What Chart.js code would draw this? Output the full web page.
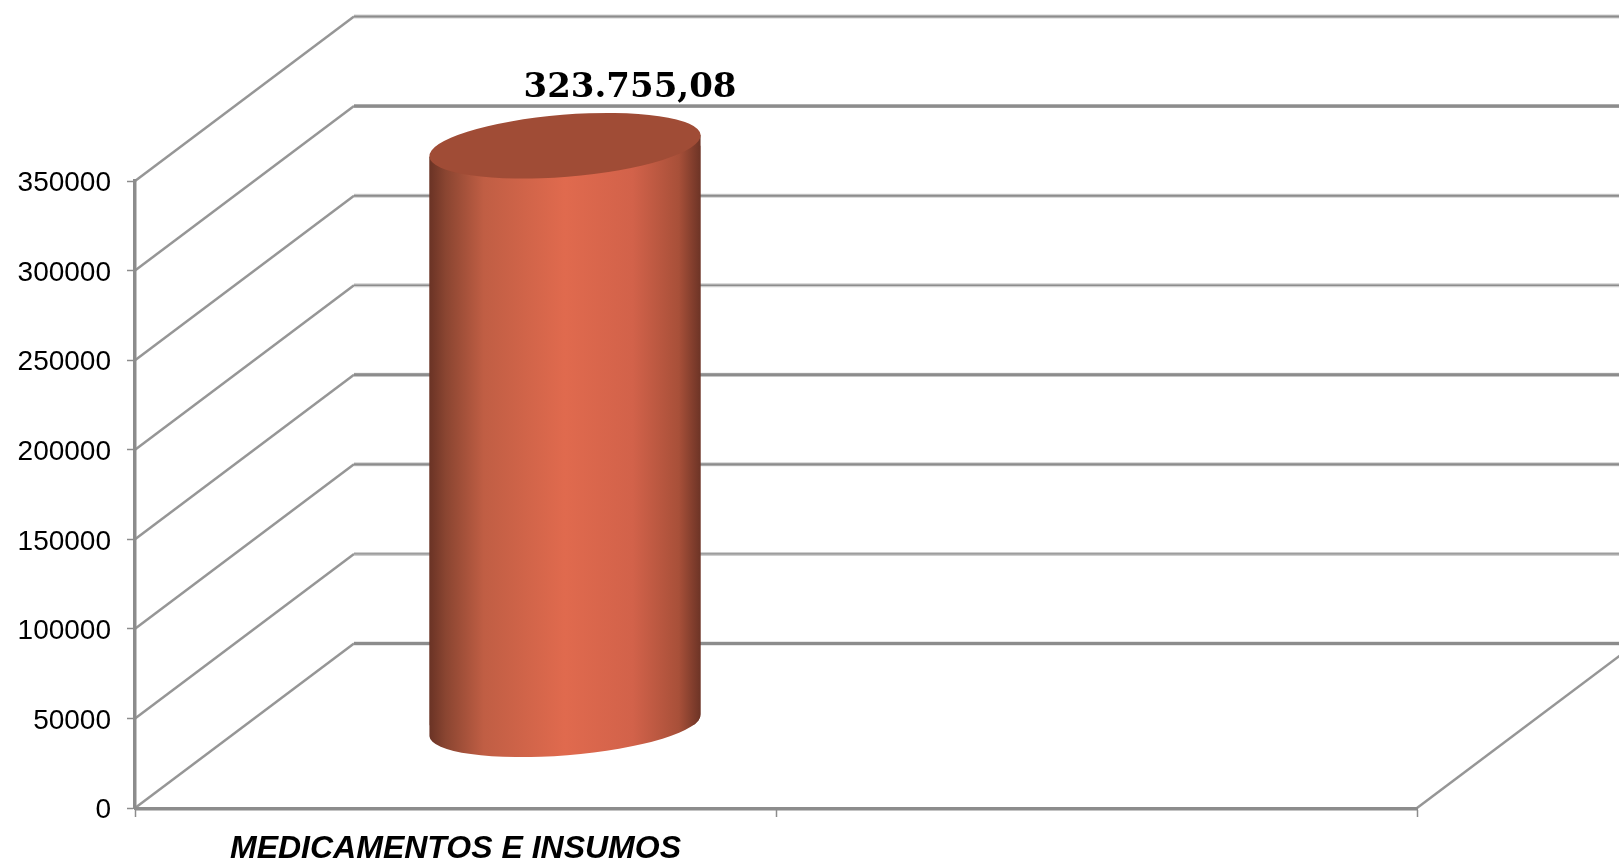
<!DOCTYPE html>
<html>
<head>
<meta charset="utf-8">
<style>
    html, body { margin: 0; padding: 0; background: #fff; overflow: hidden; }
    canvas { display: block; }
</style>
<script src="https://cdn.jsdelivr.net/npm/chart.js@4/dist/chart.umd.min.js"></script>
</head>
<body>
<canvas id="chart" width="1619" height="861"></canvas>
<script>
const categories = ['MEDICAMENTOS E INSUMOS', ''];
const seriesValues = [323755.08, null];
const valueLabels = ['323.755,08', ''];
const yTicks = [0, 50000, 100000, 150000, 200000, 250000, 300000, 350000];

// Fake 3D: how far the back wall sits from the axis plane
const DEPTH_X = 219;
const DEPTH_Y = 164.5;
const GRID = '#8c8c8c';
const TILT = -4.6 * Math.PI / 180;
// back wall lines are not all equally heavy in the original, bottom to top
const BACK_WIDTHS = [3.2, 1.2, 2.4, 3, 1.6, 2, 3.3, 2];

const sideGradient = (ctx, left, right) => {
    const g = ctx.createLinearGradient(left, 0, right, 0);
    g.addColorStop(0, '#6a3325');
    g.addColorStop(0.06, '#8a4531');
    g.addColorStop(0.2, '#c05e44');
    g.addColorStop(0.5, '#e06a4e');
    g.addColorStop(0.75, '#d2624a');
    g.addColorStop(0.92, '#a85039');
    g.addColorStop(1, '#6d3426');
    return g;
};

const walls = {
    id: 'walls',
    beforeDraw: (chart) => {
        const { ctx, chartArea: a, scales: { y } } = chart;
        ctx.save();
        yTicks.forEach((v, i) => {
            const py = y.getPixelForValue(v);
            // side wall
            ctx.strokeStyle = '#969696';
            ctx.lineWidth = 2.5;
            ctx.beginPath();
            ctx.moveTo(a.left, py);
            ctx.lineTo(a.left + DEPTH_X, py - DEPTH_Y);
            ctx.stroke();
            // back wall, pale halo first
            ctx.strokeStyle = '#cfcfcf';
            ctx.lineWidth = 4;
            ctx.beginPath();
            ctx.moveTo(a.left + DEPTH_X, py - DEPTH_Y);
            ctx.lineTo(chart.width, py - DEPTH_Y);
            ctx.stroke();
            ctx.strokeStyle = GRID;
            ctx.lineWidth = BACK_WIDTHS[i];
            ctx.beginPath();
            ctx.moveTo(a.left + DEPTH_X, py - DEPTH_Y);
            ctx.lineTo(chart.width, py - DEPTH_Y);
            ctx.stroke();
        });
        // floor edge on the right
        ctx.strokeStyle = '#969696';
        ctx.lineWidth = 2.5;
        ctx.beginPath();
        ctx.moveTo(a.right, a.bottom);
        ctx.lineTo(a.right + DEPTH_X, a.bottom - DEPTH_Y);
        ctx.stroke();
        // pale shadow under the x axis
        ctx.strokeStyle = '#c4c4c4';
        ctx.lineWidth = 2;
        ctx.beginPath();
        ctx.moveTo(a.left, a.bottom + 2);
        ctx.lineTo(a.right, a.bottom + 2);
        ctx.stroke();
        ctx.restore();
    }
};

const cylinder = {
    id: 'cylinder',
    beforeDatasetsDraw: (chart) => {
        const { ctx } = chart;
        const bar = chart.getDatasetMeta(0).data[0];
        const rx = bar.width / 2;
        const cx = bar.x + DEPTH_X / 2;
        const baseY = bar.base - DEPTH_Y / 2;
        const topY = bar.y - DEPTH_Y / 2;
        const rise = Math.sin(TILT) * rx;

        ctx.save();
        // side of the cylinder, rounded at the foot
        ctx.beginPath();
        ctx.moveTo(cx - rx, topY - rise);
        ctx.lineTo(cx + rx, topY + rise);
        ctx.lineTo(cx + rx, baseY + rise);
        ctx.ellipse(cx, baseY, rx / Math.cos(TILT), 30, TILT, 0, Math.PI);
        ctx.closePath();
        ctx.fillStyle = sideGradient(ctx, cx - rx, cx + rx);
        ctx.fill();
        ctx.clip();
        // the library's own bar moves back to mid depth
        ctx.translate(DEPTH_X / 2, -DEPTH_Y / 2);
    },
    afterDatasetsDraw: (chart) => {
        const { ctx } = chart;
        ctx.restore();
        const bar = chart.getDatasetMeta(0).data[0];
        const rx = bar.width / 2;
        const cx = bar.x + DEPTH_X / 2;
        const topY = bar.y - DEPTH_Y / 2;

        ctx.save();
        ctx.fillStyle = '#a04c36';
        ctx.beginPath();
        ctx.ellipse(cx, topY, rx / Math.cos(TILT), 31, TILT, 0, Math.PI * 2);
        ctx.fill();
        // value label
        ctx.fillStyle = '#000';
        ctx.font = 'bold 34px "DejaVu Serif"';
        ctx.textAlign = 'center';
        ctx.textBaseline = 'alphabetic';
        ctx.fillText(valueLabels[0], cx + 65, topY - 49);
        ctx.restore();
    }
};

// Liberation digits sit high on a middle baseline, push the y labels down a bit
const nudgeLabels = (s) => {
    if (s.nudged) return;
    s.nudged = true;
    const draw = s.drawLabels;
    s.drawLabels = function (area) {
        s.ctx.save();
        s.ctx.translate(0, 2.5);
        draw.call(this, area);
        s.ctx.restore();
    };
};

new Chart(document.getElementById('chart').getContext('2d'), {
    type: 'bar',
    data: {
        labels: categories,
        datasets: [{
            data: seriesValues,
            backgroundColor: (c) => {
                const { left, right } = c.chart.chartArea || { left: 0, right: 1 };
                const w = (c.chart.getDatasetMeta(0).data[0] || {}).width || 271;
                const cx = left + (right - left) / 4;
                return sideGradient(c.chart.ctx, cx - w / 2, cx + w / 2);
            },
            borderWidth: 0,
            barPercentage: 1,
            categoryPercentage: 0.423,
            clip: false
        }]
    },
    options: {
        responsive: false,
        animation: false,
        events: [],
        layout: { padding: { top: 181, right: 202 } },
        plugins: { legend: { display: false }, tooltip: { enabled: false }, title: { display: false } },
        scales: {
            x: {
                offset: true,
                grid: { offset: true, drawOnChartArea: false, color: GRID, tickLength: 9, tickWidth: 1.5 },
                border: { color: GRID, width: 3 },
                ticks: {
                    color: '#000',
                    padding: 13,
                    maxRotation: 0,
                    autoSkip: false,
                    font: { family: '"Liberation Sans"', size: 32, weight: 'bold', style: 'italic' }
                },
                afterFit: (s) => { s.height = 53; }
            },
            y: {
                min: 0,
                max: 350000,
                afterBuildTicks: (s) => { s.ticks = yTicks.map(v => ({ value: v })); },
                grid: { drawOnChartArea: false, color: GRID, tickLength: 8, tickWidth: 1.5 },
                border: { color: GRID, width: 3.5 },
                ticks: {
                    color: '#000',
                    padding: 16,
                    callback: (v) => String(v),
                    font: { family: '"Liberation Sans"', size: 28 }
                },
                afterFit: (s) => { s.width = 135; nudgeLabels(s); }
            }
        }
    },
    plugins: [walls, cylinder]
});
</script>
</body>
</html>
